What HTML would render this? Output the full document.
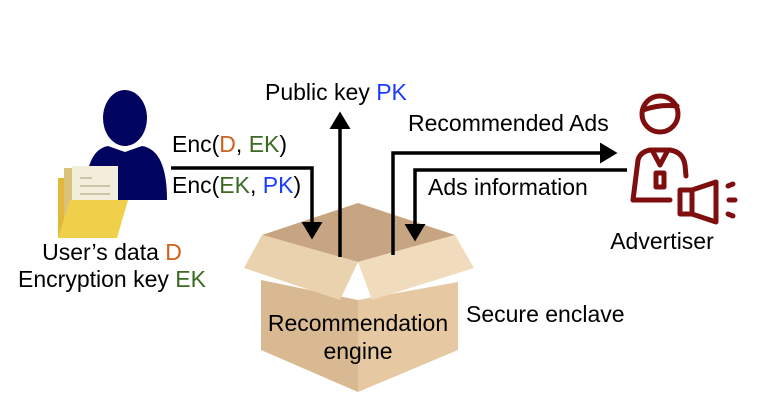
<!DOCTYPE html>
<html><head><meta charset="utf-8"><style>
body{margin:0;background:#fff}
svg{display:block}
text{font-family:"Liberation Sans",sans-serif;font-size:23px;fill:#000}
</style></head><body>
<svg width="760" height="418" viewBox="0 0 760 418">
<defs><marker id="a" markerWidth="6" markerHeight="6" refX="4" refY="3" orient="auto" markerUnits="strokeWidth"><path d="M0,0 L5,3 L0,6 z" fill="#000"/></marker></defs>
<!-- user -->
<ellipse cx="125" cy="118" rx="22" ry="28" fill="#020560"/>
<path d="M85,200 Q85,150 108,146 L125,152 L142,146 Q167,150 167,200 z" fill="#020560"/>
<rect x="64" y="168" width="52" height="60" fill="#d9c27a"/>
<rect x="72" y="166" width="46" height="50" fill="#f3eedc"/>
<line x1="80" y1="178" x2="92" y2="178" stroke="#ccc4a8" stroke-width="2"/>
<line x1="80" y1="186" x2="110" y2="186" stroke="#ccc4a8" stroke-width="2"/>
<line x1="80" y1="194" x2="110" y2="194" stroke="#ccc4a8" stroke-width="2"/>
<path d="M58,178 L64,178 L64,238 L58,238z" fill="#e0b83a"/>
<path d="M70,200 L128,200 L117,238 L58,238 z" fill="#f0cf4a"/>
<!-- box -->
<polygon points="262,235 358,203 455,235 358,262" fill="#c8a582"/>
<polygon points="261,280 358,300 358,392 261,350" fill="#d9b992"/>
<polygon points="358,300 458,282 458,350 358,392" fill="#e6c9a2"/>
<polygon points="244,268 262,235 358,262 340,300" fill="#ead2ae"/>
<polygon points="358,262 455,235 474,268 372,300" fill="#f0dcbc"/>
<!-- arrows -->
<path d="M171,168 L312,168 L312,236" fill="none" stroke="#000" stroke-width="3.5" marker-end="url(#a)"/>
<path d="M340,257 L340,115" fill="none" stroke="#000" stroke-width="3.5" marker-end="url(#a)"/>
<path d="M393,255 L393,153 L614,153" fill="none" stroke="#000" stroke-width="3.5" marker-end="url(#a)"/>
<path d="M627,170 L415,170 L415,238" fill="none" stroke="#000" stroke-width="3.5" marker-end="url(#a)"/>
<!-- advertiser -->
<g fill="none" stroke="#7f0e0e" stroke-width="5" stroke-linecap="round" stroke-linejoin="round">
<circle cx="660" cy="114" r="18"/>
<path d="M643,110 Q660,104 677,106"/>
<path d="M633,200 L638,160 Q640,152 650,150 L670,150 Q683,152 685,165 L686,176"/>
<path d="M633,200 L670,200"/>
<path d="M652,150 L660,165 L668,150"/>
<rect x="656" y="173" width="8" height="14"/>
<path d="M680,190 L692,190 L716,182 L716,222 L692,214 L680,214 z"/>
<line x1="692" y1="190" x2="692" y2="214"/>
<line x1="728" y1="186" x2="733" y2="184"/>
<line x1="729" y1="200" x2="735" y2="200"/>
<line x1="728" y1="214" x2="733" y2="216"/>
</g>
<!-- labels -->
<text x="265" y="100">Public key <tspan fill="#1a3cff">PK</tspan></text>
<text x="172" y="152">Enc(<tspan fill="#d2601a">D</tspan>, <tspan fill="#3a6a24">EK</tspan>)</text>
<text x="172" y="193">Enc(<tspan fill="#3a6a24">EK</tspan>, <tspan fill="#1a3cff">PK</tspan>)</text>
<text x="112" y="260" text-anchor="middle">User’s data <tspan fill="#d2601a">D</tspan></text>
<text x="112" y="287" text-anchor="middle">Encryption key <tspan fill="#3a6a24">EK</tspan></text>
<text x="408" y="131">Recommended Ads</text>
<text x="428" y="195">Ads information</text>
<text x="662" y="249" text-anchor="middle">Advertiser</text>
<text x="466" y="322">Secure enclave</text>
<text x="358" y="331" text-anchor="middle">Recommendation</text>
<text x="358" y="359" text-anchor="middle">engine</text>
</svg>
</body></html>
